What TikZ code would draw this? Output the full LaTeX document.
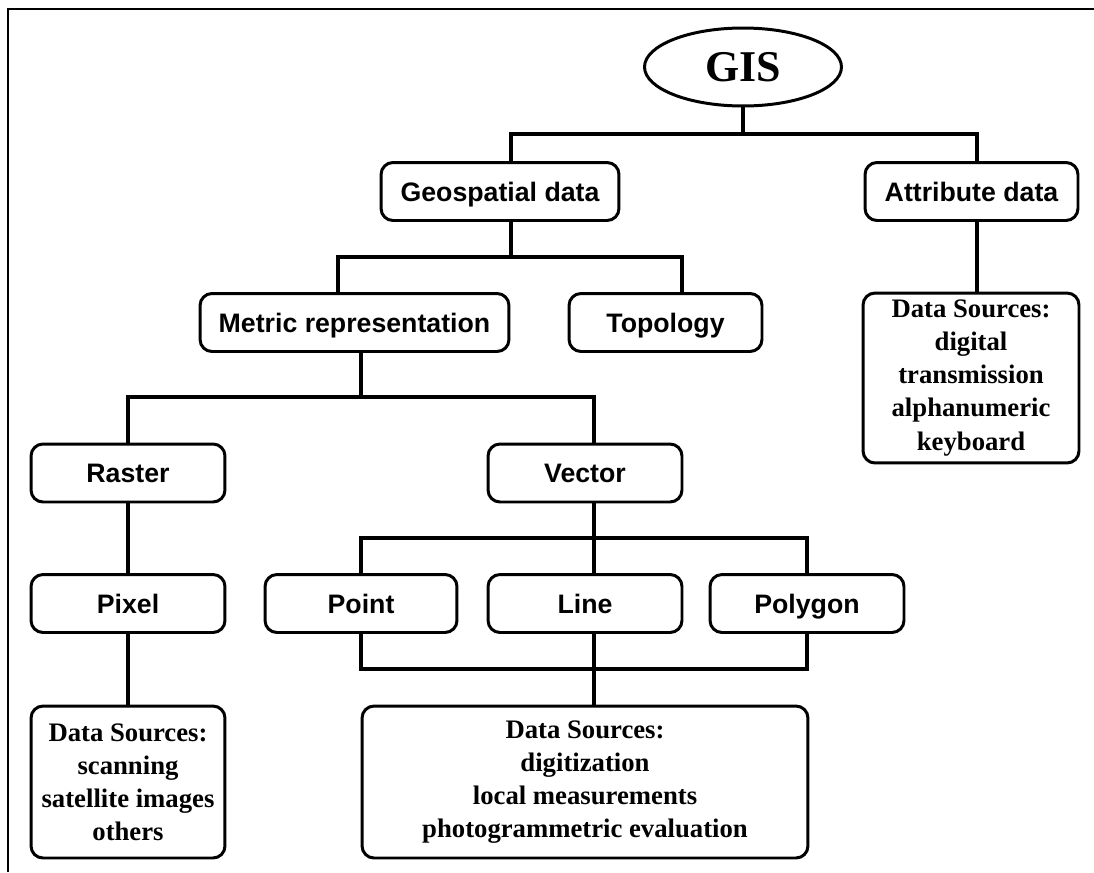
\documentclass[tikz,border=0pt]{standalone}
\usepackage{fontspec}
\setmainfont{Liberation Serif}
\setsansfont{Liberation Sans}
\usetikzlibrary{shapes.geometric}
\tikzset{
	frame/.style={draw,line width=1.7pt,rounded corners=0.24cm,inner sep=0pt,minimum height=1.16cm},
	box/.style={frame,text height=10.9pt,text depth=0pt,font=\sffamily\bfseries\fontsize{15.2}{18.8}\selectfont},
	srcbox/.style={frame,align=center,font=\bfseries\fontsize{15.2}{18.8}\selectfont},
	link/.style={line width=2pt}
}
\begin{document}
\begin{tikzpicture}[x=0.02cm,y=-0.02cm]
		\useasboundingbox (0,0) rectangle (1094,872);
		\draw[line width=1.4pt] (8,872) -- (8,9) -- (1094,9);
		% levels
		\node[draw,ellipse,line width=1.7pt,inner sep=0pt,minimum width=3.94cm,minimum height=1.56cm,font=\bfseries\fontsize{25}{30}\selectfont] (gis) at (743,67) {GIS};
		\node[box,minimum width=4.76cm] (geo) at (500,191.5) {Geospatial data};
		\node[box,minimum width=4.26cm] (attr) at (971.5,191.5) {Attribute data};
		\node[box,minimum width=6.18cm] (metric) at (354.5,322.5) {Metric representation};
		\node[box,minimum width=3.86cm] (topo) at (665.5,322.5) {Topology};
		\node[srcbox,minimum width=4.32cm,minimum height=3.4cm] (attrsrc) at (971,378) {Data Sources:\\digital\\transmission\\alphanumeric\\keyboard};
		\node[box,minimum width=3.88cm] (raster) at (128,473) {Raster};
		\node[box,minimum width=3.88cm] (vector) at (585,473) {Vector};
		\node[box,minimum width=3.88cm] (pixel) at (128,603.5) {Pixel};
		\node[box,minimum width=3.84cm] (point) at (361,603.5) {Point};
		\node[box,minimum width=3.88cm] (line) at (585,603.5) {Line};
		\node[box,minimum width=3.88cm] (polygon) at (807,603.5) {Polygon};
		\node[srcbox,minimum width=3.88cm,minimum height=3.04cm] (pixsrc) at (128,782) {Data Sources:\\scanning\\satellite images\\others};
		\node[srcbox,minimum width=8.92cm,minimum height=3.04cm] (vecsrc) at (585,782) {Data Sources:\\digitization\\local measurements\\photogrammetric evaluation};
		% junctions
		\coordinate (b1) at (743,134);
		\coordinate (b2) at (511,257);
		\coordinate (b3) at (361,397);
		\coordinate (b4) at (594,538);
		\coordinate (b5) at (594,669);
		% connectors
		\draw[link] (gis) -- (b1);
		\draw[link] (511,0 |- geo.north) |- (b1) -| (977,0 |- attr.north);
		\draw[link] (511,0 |- geo.south) -- (b2);
		\draw[link] (338,0 |- metric.north) |- (b2) -| (682,0 |- topo.north);
		\draw[link] (977,0 |- attr.south) -- (977,0 |- attrsrc.north);
		\draw[link] (361,0 |- metric.south) -- (b3);
		\draw[link] (raster.north) |- (b3) -| (594,0 |- vector.north);
		\draw[link] (raster) -- (pixel);
		\draw[link] (pixel) -- (pixsrc);
		\draw[link] (594,0 |- vector.south) -- (594,0 |- line.north);
		\draw[link] (point.north) |- (b4) -| (polygon.north);
		\draw[link] (point.south) |- (b5) -| (polygon.south);
		\draw[link] (594,0 |- line.south) -- (594,0 |- vecsrc.north);
\end{tikzpicture}
\end{document}
